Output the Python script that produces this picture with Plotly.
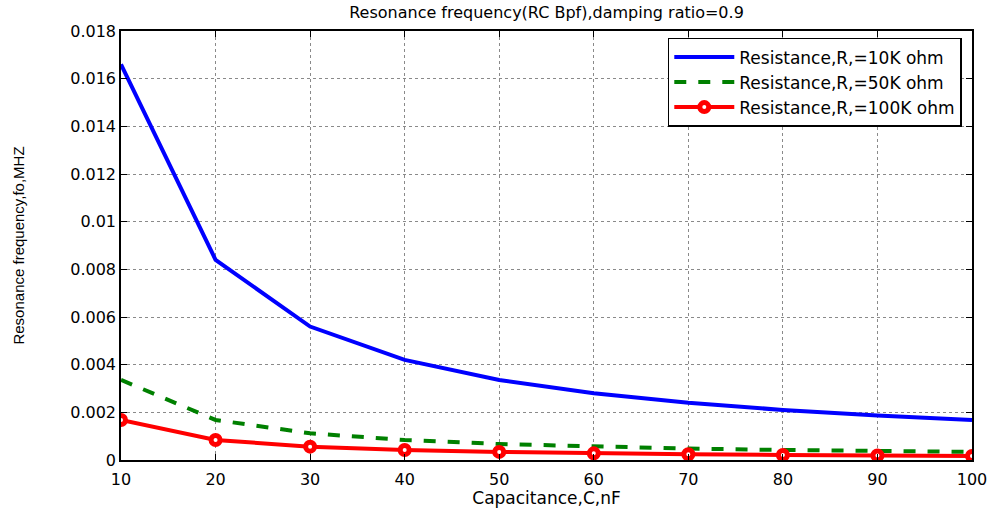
import plotly.graph_objects as go

capacitance_nF = [10, 20, 30, 40, 50, 60, 70, 80, 90, 100]
f_R10K = [0.0166, 0.0084, 0.0056, 0.0042, 0.00336, 0.0028, 0.0024, 0.0021, 0.00187, 0.00168]
f_R50K = [0.00336, 0.00168, 0.00112, 0.00084, 0.00067, 0.00056, 0.00048, 0.00042, 0.00037, 0.00034]
f_R100K = [0.00168, 0.00084, 0.00056, 0.00042, 0.00034, 0.00028, 0.00024, 0.00021, 0.00019, 0.00017]

x_ticks = [10, 20, 30, 40, 50, 60, 70, 80, 90, 100]
y_ticks = [0, 0.002, 0.004, 0.006, 0.008, 0.01, 0.012, 0.014, 0.016, 0.018]
y_tick_labels = ["0", "0.002", "0.004", "0.006", "0.008", "0.01", "0.012", "0.014", "0.016", "0.018"]

font_main = "DejaVu Sans, Verdana, sans-serif"

fig = go.Figure()
fig.add_trace(go.Scatter(x=capacitance_nF, y=f_R10K, mode="lines",
                         name="Resistance,R,=10K ohm",
                         line=dict(color="#0000ff", width=4)))
fig.add_trace(go.Scatter(x=capacitance_nF, y=f_R50K, mode="lines",
                         name="Resistance,R,=50K ohm",
                         line=dict(color="#008000", width=4, dash="dash")))
fig.add_trace(go.Scatter(x=capacitance_nF, y=f_R100K, mode="lines+markers",
                         name="Resistance,R,=100K ohm",
                         line=dict(color="#ff0000", width=4),
                         marker=dict(symbol="circle", size=9, color="white",
                                     line=dict(color="#ff0000", width=5))))

axis_common = dict(showline=True, linecolor="black", linewidth=1.5, mirror="allticks",
                   ticks="inside", ticklen=6, tickcolor="black", showgrid=True,
                   gridcolor="#8a8a8a", griddash="dot", gridwidth=1, zeroline=False,
                   automargin=False,
                   tickfont=dict(family=font_main, size=16, color="black"))

fig.update_xaxes(range=[10, 100], tickvals=x_ticks, ticklabelstandoff=4, **axis_common,
                 title=dict(text="Capacitance,C,nF", font=dict(family=font_main, size=17, color="black"),
                            standoff=3))
fig.update_yaxes(range=[0, 0.018], tickvals=y_ticks, ticktext=y_tick_labels, **axis_common,
                 title=dict(text="Resonance frequency,fo,MHZ",
                            font=dict(family="Liberation Sans, Arial, sans-serif", size=15, color="black"),
                            standoff=42))

fig.update_layout(
    width=997, height=508,
    margin=dict(l=121, r=25, t=31, b=48, autoexpand=False),
    paper_bgcolor="white", plot_bgcolor="white",
    title=dict(text="Resonance frequency(RC Bpf),damping ratio=0.9", x=0.5, xref="paper", xanchor="center",
               y=0.976, yref="container", yanchor="middle", font=dict(family=font_main, size=16, color="black")),
    legend=dict(x=0.988, xanchor="right", y=0.984, yanchor="top", bgcolor="white",
                bordercolor="black", borderwidth=1.5,
                font=dict(family=font_main, size=17, color="black"),
                tracegroupgap=0, itemwidth=60),
    showlegend=True,
)

# remove the browser's default 8px body margin so the figure fills the 997x508 window exactly
fig.write_html("out.html", config={"displayModeBar": False},
               post_script="document.body.style.margin='0';document.body.style.overflow='hidden';")
